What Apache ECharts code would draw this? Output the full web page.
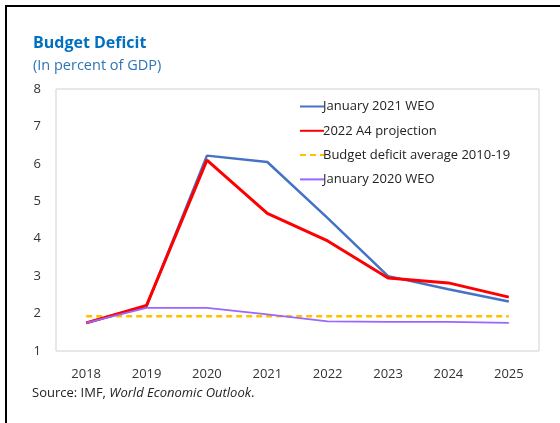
<!DOCTYPE html>
<html style="height: 100%">
    <head>
        <meta charset="utf-8">
    </head>
    <body style="height: 100%; margin: 0; background: #fff;">
        <div id="container" style="width: 560px; height: 423px;"></div>
        <script src="https://cdn.jsdelivr.net/npm/echarts@6/dist/echarts.min.js"></script>
        <script>
        var years = ['2018', '2019', '2020', '2021', '2022', '2023', '2024', '2025'];
        var weo2021 = [1.75, 2.2, 6.22, 6.05, 4.55, 3.0, 2.65, 2.32];
        var projection2022 = [1.75, 2.22, 6.1, 4.68, 3.94, 2.95, 2.82, 2.44];
        var average = [1.93, 1.93, 1.93, 1.93, 1.93, 1.93, 1.93, 1.93];
        var weo2020 = [1.75, 2.15, 2.15, 1.98, 1.79, 1.78, 1.78, 1.75];
        var seriesNames = ['January 2021 WEO', '2022 A4 projection', 'Budget deficit average 2010-19', 'January 2020 WEO'];

        var font = '"Open Sans", "Noto Sans", sans-serif';
        var chart = echarts.init(document.getElementById('container'));

        var option = {
            animation: false,
            textStyle: { fontFamily: font },
            title: [{
                text: 'Budget Deficit',
                left: 33, top: 35, padding: 0,
                textStyle: { color: '#0070C0', fontSize: 16, fontWeight: 'bold', fontFamily: font }
            }, {
                text: '(In percent of GDP)',
                left: 33, top: 58, padding: 0,
                textStyle: { color: '#2E75B6', fontSize: 14.5, fontWeight: 'normal', fontFamily: font }
            }, {
                text: 'Source: IMF, {i|World Economic Outlook}.',
                left: 32, top: 387, padding: 0,
                textStyle: {
                    color: '#222', fontSize: 13, fontWeight: 'normal', fontFamily: font,
                    rich: { i: { fontStyle: 'italic', fontSize: 13, color: '#222', fontFamily: font } }
                }
            }],
            graphic: [
                { type: 'rect', shape: { x: 5, y: 5, width: 555, height: 2 }, style: { fill: '#000' } },
                { type: 'rect', shape: { x: 5, y: 5, width: 2, height: 418 }, style: { fill: '#000' } }
            ],
            legend: {
                data: seriesNames,
                orient: 'vertical',
                left: 294, top: 95,
                itemWidth: 24, itemHeight: 10,
                itemGap: 11.3,
                itemStyle: { opacity: 0 },
                textStyle: { fontSize: 13, color: '#222', padding: [0, 0, 0, -6] }
            },
            grid: {
                left: 56, right: 21, top: 89, bottom: 72,
                show: true, borderColor: '#d0d0d0', borderWidth: 1
            },
            xAxis: {
                type: 'category',
                data: years,
                axisLine: { show: false },
                axisTick: { show: false },
                axisLabel: { color: '#333', fontSize: 13, margin: 17 }
            },
            yAxis: {
                type: 'value',
                min: 1, max: 8, interval: 1,
                axisLine: { show: false },
                axisTick: { show: false },
                splitLine: { show: false },
                axisLabel: { color: '#333', fontSize: 13, margin: 15 }
            },
            series: [{
                name: seriesNames[0], type: 'line', data: weo2021, symbol: 'none', z: 3,
                lineStyle: { color: '#4472C4', width: 2.5 }, itemStyle: { color: '#4472C4' }
            }, {
                name: seriesNames[1], type: 'line', data: projection2022, symbol: 'none', z: 4,
                lineStyle: { color: '#FF0000', width: 3 }, itemStyle: { color: '#FF0000' }
            }, {
                name: seriesNames[2], type: 'line', data: average, symbol: 'none', z: 2,
                lineStyle: { color: '#FFC000', width: 2.5, type: [6, 4] }, itemStyle: { color: '#FFC000' }
            }, {
                name: seriesNames[3], type: 'line', data: weo2020, symbol: 'none', z: 5,
                lineStyle: { color: '#9966FF', width: 1.8 }, itemStyle: { color: '#9966FF' }
            }]
        };

        chart.setOption(option);
        </script>
    </body>
</html>
